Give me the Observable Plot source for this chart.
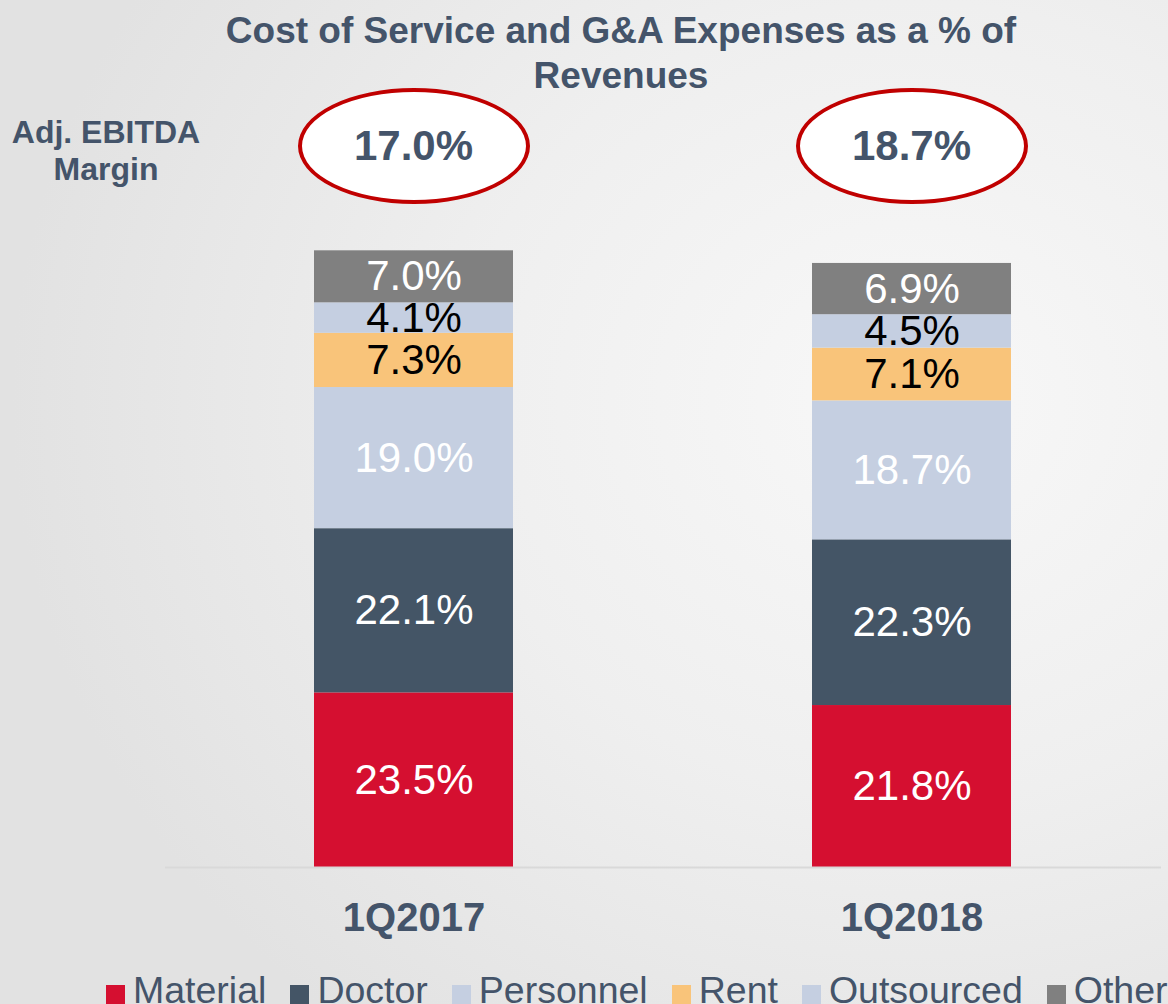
<!DOCTYPE html>
<html>
<head>
<meta charset="utf-8">
<script src="https://cdn.jsdelivr.net/npm/d3@7"></script>
<script src="https://cdn.jsdelivr.net/npm/@observablehq/plot@0.6"></script>
<style>
  html, body { margin: 0; padding: 0; }
  body {
    width: 1168px; height: 1004px; overflow: hidden; position: relative;
    font-family: "Liberation Sans", Arial, sans-serif;
    background: radial-gradient(ellipse 900px 800px at 78% 40%, #f8f8f8 0%, #efefef 50%, #e2e2e2 100%);
  }
  #title {
    position: absolute; left: 200px; width: 842px; top: 8px;
    text-align: center; font-size: 37px; font-weight: bold; line-height: 45px; color: #44546a;
  }
  #ebitda {
    position: absolute; left: 0px; width: 212px; top: 114px;
    text-align: center; font-size: 32px; font-weight: bold; line-height: 37px; color: #44546a;
  }
  .ellipse {
    position: absolute; box-sizing: border-box; width: 232px; height: 116px;
    border: 4px solid #c00000; border-radius: 50%; background: #ffffff;
    display: flex; align-items: center; justify-content: center;
    font-size: 42px; font-weight: bold; color: #44546a;
  }
  #chart { position: absolute; left: 0; top: 0; }
  #legend {
    position: absolute; left: 106px; top: 970px; white-space: nowrap;
    font-size: 37.5px; color: #44546a; line-height: 40px;
  }
  .item { display: inline-block; margin-right: 24px; }
  .sw { display: inline-block; width: 19px; height: 19px; margin-right: 8px; vertical-align: -1px; }
</style>
</head>
<body>
<div id="title">Cost of Service and G&amp;A Expenses as a % of<br>Revenues</div>
<div id="ebitda">Adj. EBITDA<br>Margin</div>
<div id="chart"></div>
<div id="legend"></div>
<script>
const quarters = ["1Q2017", "1Q2018"];
const categories = ["Material", "Doctor", "Personnel", "Rent", "Outsourced", "Other"];
const values1Q2017 = [23.5, 22.1, 19.0, 7.3, 4.1, 7.0];
const values1Q2018 = [21.8, 22.3, 18.7, 7.1, 4.5, 6.9];
const ebitdaMargins = [17.0, 18.7];
const colors = ["#d50f30", "#445566", "#c5cfe1", "#f9c47a", "#c5cfe1", "#808080"];
const labelColors = ["#ffffff", "#ffffff", "#ffffff", "#000000", "#000000", "#ffffff"];

const series = [values1Q2017, values1Q2018];
const rows = quarters.flatMap((q, i) => categories.map((c, j) => ({
  quarter: q, category: c, value: series[i][j],
  label: series[i][j].toFixed(1) + "%", labelColor: labelColors[j]
})));

const FONT = '"Liberation Sans", Arial, sans-serif';
const labelFor = col => d => d.labelColor === col ? d.label : "";

const plot = Plot.plot({
  width: 1168,
  height: 960,
  marginTop: 124,
  marginBottom: 93,
  marginLeft: 165,
  marginRight: 7,
  style: {background: "none", fontFamily: FONT, overflow: "visible"},
  x: {domain: quarters, paddingInner: 0.6, paddingOuter: 0.3, label: null},
  y: {domain: [0, 100], axis: null},
  color: {domain: categories, range: colors},
  marks: [
    Plot.barY(rows, {x: "quarter", y: "value", fill: "category", z: "category"}),
    Plot.ruleY([0], {stroke: "#d9d9d9", strokeWidth: 2}),
    Plot.text(rows, Plot.stackY({x: "quarter", y: "value", z: "category", text: labelFor("#ffffff"), fill: "#ffffff", fontSize: 42})),
    Plot.text(rows, Plot.stackY({x: "quarter", y: "value", z: "category", text: labelFor("#000000"), fill: "#000000", fontSize: 42})),
    Plot.axisX({tickSize: 0, tickPadding: 35, fontSize: 40, fontWeight: "bold", fill: "#44546a", label: null})
  ]
});
document.getElementById("chart").appendChild(plot);

// Adj. EBITDA margin ellipses, centered on the x bands
const xs = plot.scale("x");
quarters.forEach((q, i) => {
  const cx = xs.apply(q) + xs.bandwidth / 2;
  const el = document.createElement("div");
  el.className = "ellipse";
  el.style.left = (cx - 116) + "px";
  el.style.top = "88px";
  el.textContent = ebitdaMargins[i].toFixed(1) + "%";
  document.body.appendChild(el);
});

// Legend
const legend = document.getElementById("legend");
categories.forEach((c, j) => {
  const it = document.createElement("span");
  it.className = "item";
  const sw = document.createElement("span");
  sw.className = "sw";
  sw.style.background = colors[j];
  it.appendChild(sw);
  it.appendChild(document.createTextNode(c));
  legend.appendChild(it);
});
</script>
</body>
</html>
